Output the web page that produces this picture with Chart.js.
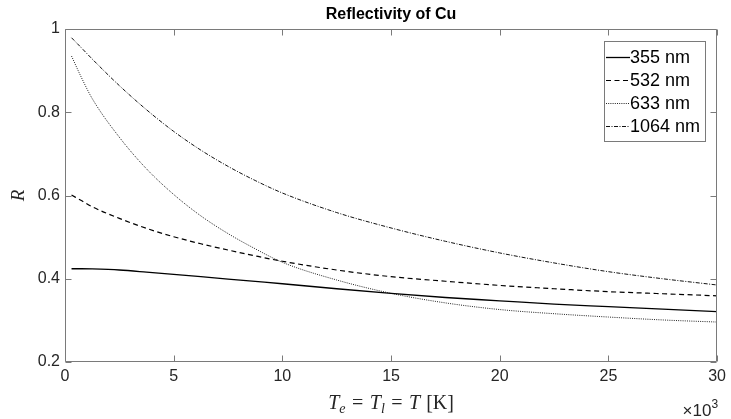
<!DOCTYPE html>
<html><head><meta charset="utf-8">
<script src="https://cdn.jsdelivr.net/npm/chart.js@4.4.1/dist/chart.umd.min.js"></script>
<style>html,body{margin:0;padding:0;background:#fff;}#wrap{position:relative;width:731px;height:419px;}</style>
</head><body><div id="wrap"><canvas id="c" width="731" height="419"></canvas></div>
<script>
// Temperature in units of 10^3 K
const temperature = [0.3, 0.75, 1.25, 2.5, 3.75, 5, 6.25, 7.5, 8.75, 10, 12.5, 15, 17.5, 20, 22.5, 25, 27.5, 30];
const r355  = [0.424, 0.424, 0.4235, 0.421, 0.416, 0.4105, 0.405, 0.399, 0.3935, 0.388, 0.376, 0.365, 0.355, 0.347, 0.339, 0.333, 0.327, 0.321];
const r532  = [0.601, 0.588, 0.573, 0.545, 0.521, 0.501, 0.484, 0.469, 0.455, 0.442, 0.421, 0.405, 0.394, 0.384, 0.376, 0.369, 0.364, 0.359];
const r633  = [0.935, 0.884, 0.833, 0.740, 0.664, 0.6025, 0.551, 0.5085, 0.472, 0.4395, 0.397, 0.365, 0.342, 0.326, 0.316, 0.308, 0.301, 0.296];
const r1064 = [0.979, 0.955, 0.928, 0.864, 0.806, 0.754, 0.709, 0.670, 0.636, 0.606, 0.559, 0.522, 0.490, 0.462, 0.438, 0.417, 0.400, 0.385];
const seriesLabels = ['355 nm', '532 nm', '633 nm', '1064 nm'];
const xTickValues = [0, 5, 10, 15, 20, 25, 30];
const yTickValues = [0.2, 0.4, 0.6, 0.8, 1];
const chartTitle = 'Reflectivity of Cu';
const yTitle = 'R';
const xExponent = '3';

const SANS = '"Liberation Sans", Arial, Helvetica, sans-serif';
const SERIF = '"Liberation Serif", "Times New Roman", serif';
const AX = '#262626';
const BOX = '#7a7a7a';

function pts(arr){ return temperature.map((t,i)=>({x:t,y:arr[i]})); }
const styles = [
  {borderDash:[], borderWidth:1.3, borderColor:'#000'},
  {borderDash:[5,3.5], borderWidth:1.2, borderColor:'#000'},
  {borderDash:[1,1.2], borderWidth:1, borderColor:'#222'},
  {borderDash:[4,1.5,1,1.5], borderWidth:1, borderColor:'#111'}
];
const seriesData = [r355, r532, r633, r1064];

const decor = {
  id:'decor',
  afterDraw(chart){
    const ctx = chart.ctx, a = chart.chartArea;
    const xs = chart.scales.x, ys = chart.scales.y;
    ctx.save();
    // box
    ctx.strokeStyle = BOX; ctx.lineWidth = 1; ctx.setLineDash([]);
    const L = Math.round(a.left)+0.5, R = Math.round(a.right)-0.5, T = Math.round(a.top)+0.5, B = Math.round(a.bottom)-0.5;
    ctx.beginPath(); ctx.rect(L, T, R-L, B-T); ctx.stroke();
    // inward ticks
    const tl = 6;
    ctx.beginPath();
    xTickValues.forEach(v=>{
      const p = Math.round(xs.getPixelForValue(v))+0.5;
      ctx.moveTo(p,B); ctx.lineTo(p,B-tl);
      ctx.moveTo(p,T); ctx.lineTo(p,T+tl);
    });
    yTickValues.forEach(v=>{
      const p = Math.round(ys.getPixelForValue(v))+0.5;
      ctx.moveTo(L,p); ctx.lineTo(L+tl,p);
      ctx.moveTo(R,p); ctx.lineTo(R-tl,p);
    });
    ctx.stroke();

    // title
    ctx.fillStyle = '#000';
    ctx.font = 'bold 16px ' + SANS;
    ctx.textAlign = 'center'; ctx.textBaseline = 'alphabetic';
    ctx.fillText(chartTitle, (a.left+a.right)/2, 19);

    // y title
    ctx.save();
    ctx.translate(19, (a.top+a.bottom)/2);
    ctx.rotate(-Math.PI/2);
    ctx.font = 'italic 19px ' + SERIF;
    ctx.fillStyle = AX;
    ctx.textAlign = 'center'; ctx.textBaseline = 'middle';
    ctx.fillText(yTitle, 0, 0);
    ctx.restore();

    // x title: T_e = T_l = T [K]
    const g = 6.5;
    const parts = [
      {t:'T', f:'italic 20px '+SERIF, dy:0, gap:0},
      {t:'e', f:'italic 14px '+SERIF, dy:4, gap:g},
      {t:'=', f:'20px '+SERIF, dy:0, gap:g},
      {t:'T', f:'italic 20px '+SERIF, dy:0, gap:0},
      {t:'l', f:'italic 14px '+SERIF, dy:4, gap:g},
      {t:'=', f:'20px '+SERIF, dy:0, gap:g},
      {t:'T', f:'italic 20px '+SERIF, dy:0, gap:6},
      {t:'[K]', f:'20px '+SERIF, dy:0, gap:0}
    ];
    let w = 0;
    parts.forEach(p=>{ ctx.font = p.f; p.w = ctx.measureText(p.t).width; w += p.w + p.gap; });
    let x = (a.left+a.right)/2 - w/2;
    ctx.textAlign = 'left'; ctx.textBaseline = 'alphabetic'; ctx.fillStyle = AX;
    parts.forEach(p=>{ ctx.font = p.f; ctx.fillText(p.t, x, 409 + p.dy); x += p.w + p.gap; });

    // x10^3
    ctx.font = '17px ' + SANS;
    const base = '\u00d710';
    const bw = ctx.measureText(base).width;
    ctx.font = '12px ' + SANS;
    const ew = ctx.measureText(xExponent).width;
    const x0 = a.right - bw - ew + 1;
    ctx.font = '17px ' + SANS;
    ctx.fillText(base, x0, 416);
    ctx.font = '12px ' + SANS;
    ctx.fillText(xExponent, x0 + bw, 408);

    // legend
    const lx = 604.5, ly = 41.5, lw = 101, lh = 100;
    ctx.fillStyle = '#fff';
    ctx.fillRect(lx, ly, lw, lh);
    ctx.strokeStyle = BOX; ctx.lineWidth = 1; ctx.setLineDash([]);
    ctx.strokeRect(lx, ly, lw, lh);
    chart.data.datasets.forEach((ds, i)=>{
      const yy = 57 + i*23;
      ctx.strokeStyle = ds.borderColor; ctx.lineWidth = ds.borderWidth;
      ctx.setLineDash(ds.borderDash);
      ctx.beginPath(); ctx.moveTo(606, yy+0.5); ctx.lineTo(630, yy+0.5); ctx.stroke();
      ctx.setLineDash([]);
      ctx.fillStyle = '#000';
      ctx.font = '18px ' + SANS;
      ctx.textAlign = 'left'; ctx.textBaseline = 'middle';
      ctx.fillText(ds.label, 630, yy+1);
    });
    ctx.restore();
  }
};

new Chart(document.getElementById('c'), {
  type:'line',
  data:{
    datasets: seriesData.map((arr,i)=>Object.assign({
      label: seriesLabels[i],
      data: pts(arr),
      pointRadius:0,
      fill:false,
      cubicInterpolationMode:'monotone'
    }, styles[i]))
  },
  options:{
    responsive:false,
    animation:false,
    events:[],
    layout:{padding:{left:0, right:9, top:29, bottom:0}},
    plugins:{legend:{display:false}, title:{display:false}, tooltip:{enabled:false}},
    scales:{
      x:{
        type:'linear', min:0, max:30,
        afterBuildTicks(s){ s.ticks = xTickValues.map(v=>({value:v})); },
        ticks:{font:{size:16, family:SANS}, color:AX, padding:5, maxRotation:0, autoSkip:false},
        grid:{display:false, drawTicks:false},
        border:{display:false},
        afterFit(s){ s.height = 57; }
      },
      y:{
        type:'linear', min:0.2, max:1,
        afterBuildTicks(s){ s.ticks = yTickValues.map(v=>({value:v})); },
        ticks:{font:{size:16, family:SANS}, color:AX, padding:5,
          callback:(v)=>String(Math.round(v*10)/10)},
        grid:{display:false, drawTicks:false},
        border:{display:false},
        afterFit(s){ s.width = 65; }
      }
    }
  },
  plugins:[decor]
});
</script>
</body></html>
